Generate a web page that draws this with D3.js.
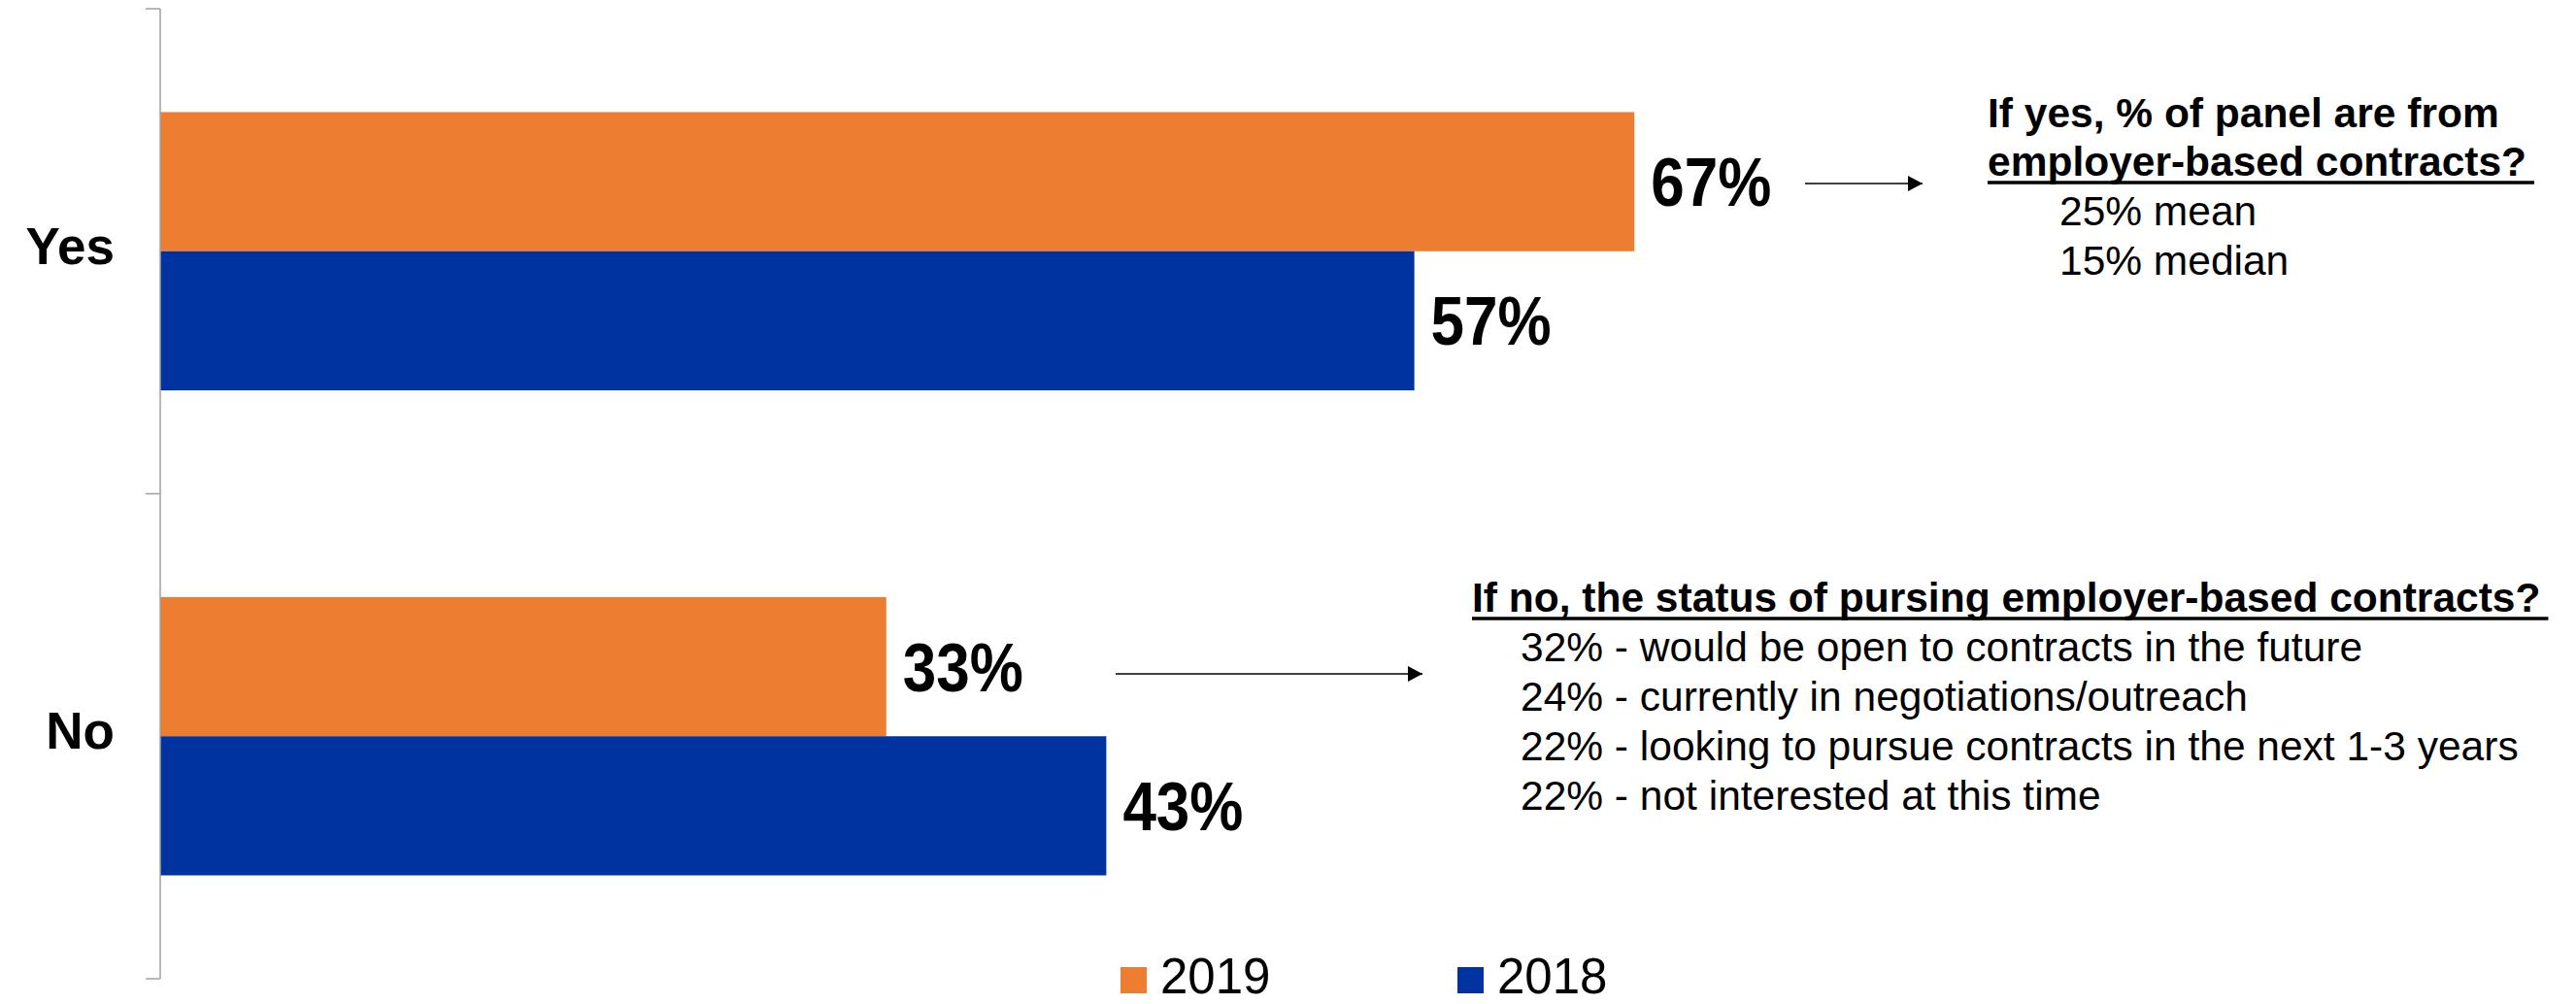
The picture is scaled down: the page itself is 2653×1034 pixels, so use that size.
<!DOCTYPE html>
<html>
<head>
<meta charset="utf-8">
<script src="https://cdn.jsdelivr.net/npm/d3@7/dist/d3.min.js"></script>
<style>
  html, body { margin: 0; padding: 0; background: #fff; }
  svg { display: block; font-family: "Liberation Sans", Arial, sans-serif; }
</style>
</head>
<body>
<svg id="chart" width="2653" height="1034"></svg>
<script>
// ---- data ----
const categories = ["Yes", "No"];
const seriesNames = ["2019", "2018"];
const values2019 = [67, 33];
const values2018 = [57, 43];
const seriesColors = ["#ED7D31", "#0033A0"];

const yesNoteTitle = ["If yes, % of panel are from", "employer-based contracts?"];
const yesNoteLines = ["25% mean", "15% median"];
const noNoteTitle = ["If no, the status of pursing employer-based contracts?"];
const noNoteLines = [
  "32% - would be open to contracts in the future",
  "24% - currently in negotiations/outreach",
  "22% - looking to pursue contracts in the next 1-3 years",
  "22% - not interested at this time"
];

// ---- layout ----
const svg = d3.select("#chart");
const axisX = 165;

const x = d3.scaleLinear().domain([0, 100]).range([axisX, axisX + 2266]);
const y = d3.scaleBand().domain(categories).range([9, 1008]).paddingInner(0).paddingOuter(0);
const ySub = d3.scaleBand().domain(seriesNames).range([0, y.bandwidth()]).paddingInner(0).paddingOuter(0.743);

const rows = [];
categories.forEach((c, i) => {
  rows.push({cat: c, series: seriesNames[0], v: values2019[i], color: seriesColors[0]});
  rows.push({cat: c, series: seriesNames[1], v: values2018[i], color: seriesColors[1]});
});

// bars
svg.append("g").selectAll("rect").data(rows).join("rect")
  .attr("x", x(0))
  .attr("y", d => y(d.cat) + ySub(d.series))
  .attr("width", d => x(d.v) - x(0))
  .attr("height", ySub.bandwidth())
  .attr("fill", d => d.color);

// category axis (line + ticks at band edges)
const axisG = svg.append("g").attr("stroke", "#a0a0a0").attr("stroke-width", 1.5);
axisG.append("line").attr("x1", axisX).attr("x2", axisX).attr("y1", y.range()[0]).attr("y2", y.range()[1]);
const edges = categories.map(c => y(c)).concat([y.range()[1]]);
axisG.selectAll("line.tick").data(edges).join("line").attr("class", "tick")
  .attr("x1", axisX - 15).attr("x2", axisX).attr("y1", d => d).attr("y2", d => d);

svg.append("g").selectAll("text").data(categories).join("text")
  .attr("x", 118)
  .attr("y", d => y(d) + y.bandwidth() / 2 + 13)
  .attr("text-anchor", "end")
  .attr("font-weight", "bold")
  .attr("font-size", 53)
  .attr("fill", "#000")
  .text(d => d);

// value labels (slightly condensed)
svg.append("g").selectAll("text").data(rows).join("text")
  .attr("transform", d => `translate(${x(d.v) + 17},${y(d.cat) + ySub(d.series) + ySub.bandwidth() / 2 + 25}) scale(0.886,1)`)
  .attr("font-weight", "bold")
  .attr("font-size", 70)
  .attr("fill", "#000")
  .text(d => d.v + "%");

// arrows
const defs = svg.append("defs");
defs.append("marker").attr("id", "arrowHead")
  .attr("viewBox", "0 0 15 16").attr("refX", 15).attr("refY", 8)
  .attr("markerWidth", 15).attr("markerHeight", 16).attr("markerUnits", "userSpaceOnUse")
  .attr("orient", "auto")
  .append("path").attr("d", "M0,0 L15,8 L0,16 Z").attr("fill", "#000");

const arrowRows = [
  {x1: 1859, x2: 1980, yv: 189},
  {x1: 1149, x2: 1465, yv: 694}
];
svg.append("g").selectAll("line").data(arrowRows).join("line")
  .attr("x1", d => d.x1).attr("x2", d => d.x2)
  .attr("y1", d => d.yv).attr("y2", d => d.yv)
  .attr("stroke", "#404040").attr("stroke-width", 2)
  .attr("marker-end", "url(#arrowHead)");

// notes
function note(titleLines, bodyLines, tx, bx, firstBaseline, lineGap) {
  const g = svg.append("g");
  let yy = firstBaseline;
  let lastTitle;
  titleLines.forEach((t) => {
    lastTitle = g.append("text").attr("x", tx).attr("y", yy)
      .attr("font-weight", "bold").attr("font-size", 42.5).attr("fill", "#000").text(t);
    yy += lineGap;
  });
  const w = lastTitle.node().getComputedTextLength();
  g.append("line")
    .attr("x1", tx).attr("x2", tx + w + 8)
    .attr("y1", yy - lineGap + 7).attr("y2", yy - lineGap + 7)
    .attr("stroke", "#000").attr("stroke-width", 3.5);
  bodyLines.forEach((t) => {
    yy += 1;
    g.append("text").attr("x", bx).attr("y", yy)
      .attr("font-size", 42.5).attr("fill", "#000").text(t);
    yy += lineGap;
  });
}
note(yesNoteTitle, yesNoteLines, 2047, 2121, 131, 50);
note(noNoteTitle, noNoteLines, 1516, 1566, 630, 50);

// legend
const legendX = [1154, 1501];
const lg = svg.append("g").selectAll("g").data(seriesNames).join("g")
  .attr("transform", (d, i) => `translate(${legendX[i]},996)`);
lg.append("rect").attr("width", 27).attr("height", 27).attr("fill", (d, i) => seriesColors[i]);
lg.append("text").attr("x", 41).attr("y", 27).attr("font-size", 51).attr("fill", "#000").text(d => d);
</script>
</body>
</html>
